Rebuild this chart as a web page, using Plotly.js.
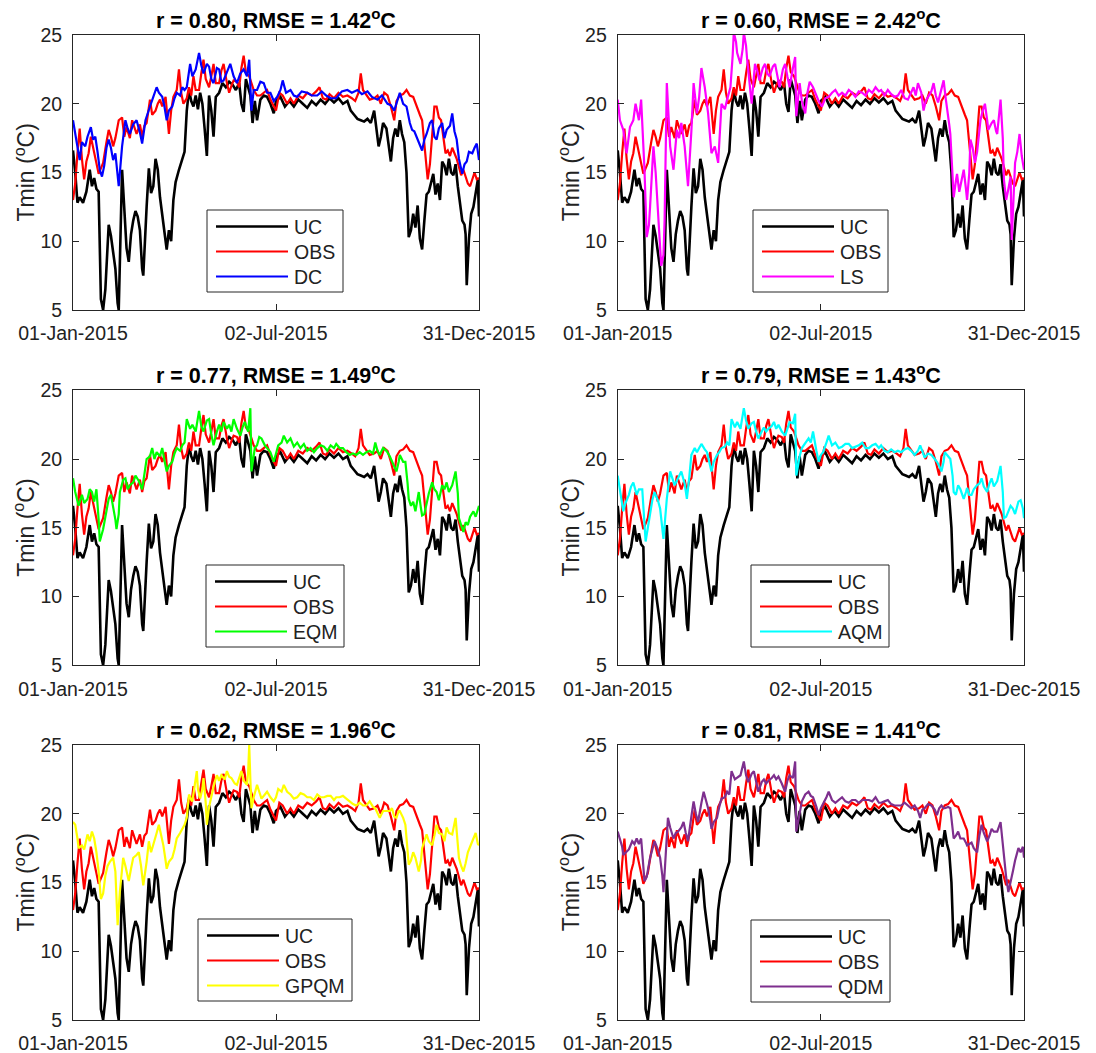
<!DOCTYPE html>
<html>
<head>
<meta charset="utf-8">
<script src="https://cdn.plot.ly/plotly-3.0.1.min.js"></script>
<style>html,body{margin:0;padding:0;background:#fff;}#chart{width:1096px;height:1053px;}</style>
</head>
<body>
<div id="chart"></div>
<script>
// ---- data: [day of 2015 (0 = 01-Jan), Tmin in °C] ----
const UC = [[0,16.6],[2,15.0],[4,12.8],[6,13.2],[9,12.8],[12,13.6],[15,15.2],[17,14.0],[19,14.6],[21,13.8],[23,13.6],[25,5.8],[27,5.0],[29,6.5],[32,11.2],[34,10.4],[36,9.2],[38,8.0],[40,5.5],[41,5.0],[44,15.2],[46,12.0],[48,9.5],[50,8.5],[52,10.5],[54,11.5],[56,12.2],[58,11.8],[60,10.8],[62,8.0],[63,7.5],[66,12.5],[68,15.3],[70,13.5],[72,14.0],[74,16.0],[76,15.2],[78,13.2],[80,11.8],[82,10.5],[84,9.4],[86,10.8],[88,10.0],[90,13.0],[92,14.3],[95,15.2],[98,16.0],[100,16.5],[102,19.5],[104,21.0],[106,20.2],[108,19.8],[110,20.6],[112,19.6],[114,20.8],[116,20.0],[118,18.2],[120,16.2],[122,20.6],[124,19.5],[126,17.6],[128,20.5],[131,20.8],[134,21.5],[137,21.2],[140,21.6],[143,21.4],[146,21.0],[149,21.5],[151,20.0],[153,19.4],[155,21.8],[157,21.2],[159,20.6],[161,18.6],[163,20.2],[165,18.8],[168,20.3],[171,20.6],[174,20.5],[177,20.0],[180,19.3],[182,20.2],[186,20.5],[190,19.8],[194,20.2],[198,19.8],[202,20.3],[206,20.0],[210,19.7],[214,20.2],[218,19.9],[222,20.3],[226,20.0],[230,20.4],[234,20.1],[238,20.4],[242,20.0],[246,20.2],[249,19.5],[252,19.2],[255,18.9],[258,18.8],[261,18.7],[264,18.9],[267,18.6],[270,19.5],[272,18.2],[274,16.9],[276,17.6],[278,18.6],[281,18.2],[283,16.8],[285,15.8],[287,17.5],[289,18.2],[291,17.6],[293,18.8],[295,17.8],[297,17.2],[299,15.0],[301,10.3],[303,10.8],[305,12.0],[307,11.0],[309,12.6],[311,10.2],[313,9.4],[315,11.5],[317,13.4],[319,13.6],[321,14.2],[323,14.9],[325,13.4],[327,14.2],[329,13.0],[331,15.8],[333,15.5],[335,14.8],[337,16.0],[339,15.0],[341,14.8],[343,15.6],[345,14.0],[347,12.8],[349,11.5],[351,11.2],[352,10.5],[353,6.8],[355,10.2],[357,12.0],[359,12.5],[361,13.5],[363,14.5],[364,11.8]];

const OBS = [[0,13.0],[2,14.2],[4,16.4],[6,18.2],[8,16.0],[10,14.5],[12,15.8],[14,16.4],[16,17.6],[18,16.8],[20,16.2],[23,14.9],[25,15.3],[27,15.7],[30,17.2],[32,18.1],[34,17.6],[36,16.9],[38,17.5],[41,18.8],[44,19.0],[46,17.6],[48,18.3],[51,17.5],[53,18.8],[55,18.3],[57,17.8],[60,18.5],[62,17.6],[64,18.4],[66,18.6],[69,20.3],[71,19.2],[74,19.5],[76,20.0],[78,20.3],[80,19.8],[83,20.5],[85,18.6],[86,17.8],[88,19.5],[90,20.5],[93,21.0],[95,22.5],[97,20.8],[99,20.0],[102,20.4],[104,21.2],[106,20.6],[108,22.0],[110,21.0],[113,21.0],[115,22.2],[117,23.2],[119,21.8],[122,21.2],[124,22.0],[126,22.9],[128,21.5],[131,21.5],[133,22.4],[135,22.9],[138,21.5],[140,20.8],[142,21.3],[144,21.7],[147,21.6],[149,21.2],[151,22.6],[153,23.5],[155,22.3],[158,22.0],[160,21.5],[162,21.0],[165,20.6],[168,20.6],[171,20.8],[174,21.0],[177,20.3],[180,19.8],[182,19.5],[185,20.8],[188,20.6],[192,20.0],[195,20.4],[198,20.0],[202,20.6],[206,20.4],[210,20.8],[214,20.6],[218,20.9],[221,21.2],[224,20.4],[227,20.3],[230,20.7],[234,20.4],[238,20.8],[242,20.5],[246,20.6],[250,20.4],[253,20.2],[256,20.8],[258,22.2],[260,21.0],[263,20.6],[266,20.3],[270,20.4],[273,20.6],[276,20.0],[279,20.8],[282,20.6],[285,19.8],[288,18.8],[290,20.2],[293,20.6],[296,20.7],[299,21.0],[302,20.6],[305,20.5],[308,19.8],[311,19.2],[313,18.8],[315,17.0],[316,15.9],[318,14.5],[320,15.6],[322,17.6],[324,19.8],[326,19.8],[328,19.0],[330,18.8],[332,17.5],[334,16.4],[336,16.6],[338,16.2],[340,16.8],[342,16.4],[344,16.0],[346,15.4],[348,14.8],[350,15.2],[352,14.7],[354,14.2],[356,14.0],[358,14.6],[360,15.0],[362,14.5],[364,14.6]];

const DC = [[0,18.8],[2,17.8],[4,17.0],[6,15.9],[8,17.2],[11,16.9],[13,17.6],[16,18.3],[18,17.4],[20,17.6],[22,16.5],[24,15.2],[26,14.7],[28,15.5],[30,16.8],[32,17.4],[34,16.8],[36,15.9],[38,16.4],[40,15.0],[41,14.0],[44,16.9],[47,18.8],[49,18.2],[51,17.8],[54,18.5],[57,18.8],[60,17.9],[62,17.1],[65,18.8],[67,19.4],[69,19.8],[72,20.5],[75,21.2],[77,20.8],[80,20.5],[82,19.8],[84,18.8],[86,19.5],[89,19.8],[91,20.4],[93,20.8],[96,20.6],[98,21.2],[100,21.0],[102,21.2],[105,22.9],[107,22.0],[110,22.5],[113,23.7],[115,22.8],[117,22.2],[120,22.9],[122,22.7],[124,21.8],[126,21.5],[129,22.6],[131,22.5],[133,21.6],[135,21.7],[138,22.3],[141,22.9],[144,22.0],[147,21.5],[150,22.2],[153,22.5],[156,22.0],[158,23.2],[160,19.5],[162,21.0],[165,21.0],[168,21.6],[171,21.5],[174,20.8],[177,20.8],[180,20.2],[183,20.5],[186,21.0],[188,21.7],[191,20.8],[195,21.0],[198,20.6],[201,20.5],[205,20.9],[210,20.8],[214,20.6],[219,20.6],[223,20.9],[227,20.6],[231,20.4],[236,20.4],[241,20.9],[246,21.0],[250,20.8],[255,21.0],[259,20.7],[264,20.9],[268,20.5],[273,20.3],[277,20.6],[282,20.0],[285,19.9],[288,19.5],[291,20.2],[293,20.8],[296,20.0],[299,19.8],[302,18.6],[304,18.1],[306,18.0],[308,17.6],[311,17.0],[313,16.6],[315,17.4],[317,17.8],[320,18.6],[322,18.8],[324,17.6],[326,17.4],[328,18.2],[331,18.6],[333,17.5],[335,18.1],[338,18.4],[340,19.3],[342,18.0],[344,17.4],[346,16.0],[349,14.9],[351,15.6],[353,15.8],[355,16.5],[358,16.4],[360,16.8],[362,17.1],[364,15.9]];

const LS = [[0,20.3],[2,18.8],[5,18.1],[8,16.4],[11,18.3],[14,18.8],[16,20.0],[19,18.8],[21,20.3],[23,17.5],[24,15.2],[26,10.3],[28,11.2],[29,12.5],[32,16.9],[34,15.0],[36,12.5],[38,10.0],[39,8.2],[41,9.0],[42,11.5],[44,21.5],[46,18.0],[47,16.9],[50,15.2],[53,18.1],[55,17.5],[57,18.6],[60,16.9],[62,15.0],[63,14.0],[66,18.0],[68,21.5],[71,19.3],[73,20.5],[75,22.6],[77,21.8],[78,21.2],[81,19.3],[83,17.5],[84,16.4],[87,16.9],[89,16.0],[90,15.7],[93,20.0],[96,19.6],[98,20.3],[101,21.2],[103,23.5],[104,25.2],[106,24.5],[107,23.7],[110,22.9],[112,24.0],[113,25.2],[115,24.2],[116,23.2],[118,21.8],[120,20.0],[123,22.9],[125,22.4],[127,21.7],[130,22.6],[132,22.9],[134,22.2],[136,22.0],[139,22.7],[141,22.9],[143,22.0],[145,21.2],[148,22.5],[150,22.9],[152,22.0],[154,21.2],[157,22.6],[159,23.4],[160,19.1],[163,21.5],[165,20.2],[168,19.3],[170,20.8],[172,21.6],[175,21.2],[177,20.8],[180,20.2],[183,19.8],[186,20.4],[189,20.5],[192,20.8],[195,21.0],[198,20.6],[201,20.8],[204,20.6],[207,21.0],[210,20.8],[213,20.5],[216,20.9],[219,20.8],[222,20.6],[225,21.0],[228,20.8],[231,21.2],[234,20.9],[236,21.0],[239,20.6],[242,21.0],[245,20.7],[248,20.5],[251,20.6],[254,21.0],[257,20.4],[260,20.3],[263,20.8],[265,21.2],[267,20.6],[269,21.5],[272,20.8],[274,19.5],[276,20.2],[278,20.5],[281,20.9],[283,21.5],[285,20.6],[287,20.1],[290,21.0],[292,21.7],[294,20.3],[295,19.8],[297,18.5],[298,17.8],[300,15.0],[301,13.2],[303,14.4],[304,14.9],[306,13.6],[307,14.0],[309,14.8],[310,15.2],[312,13.8],[313,13.0],[315,15.0],[316,17.4],[318,16.8],[320,15.7],[322,16.5],[325,18.8],[327,19.5],[329,20.0],[331,18.8],[332,18.1],[335,18.6],[337,18.8],[339,18.0],[340,17.8],[343,20.3],[345,17.5],[346,14.5],[348,13.0],[350,13.8],[352,14.7],[353,10.1],[355,13.8],[356,15.7],[358,16.5],[360,17.8],[362,16.2],[364,15.2]];

const EQM = [[0,18.6],[2,17.6],[5,16.6],[8,17.4],[10,16.8],[13,17.1],[15,17.8],[17,17.6],[19,16.9],[21,17.8],[23,15.6],[24,14.0],[27,14.9],[30,16.4],[32,17.1],[34,17.4],[36,16.6],[38,15.6],[39,14.9],[41,16.0],[42,17.6],[45,18.5],[47,18.6],[49,17.8],[51,18.1],[54,18.3],[56,18.8],[59,18.4],[62,17.8],[64,18.8],[66,20.0],[69,20.2],[71,20.8],[73,20.0],[75,20.5],[78,20.2],[80,20.8],[82,19.9],[84,19.1],[86,19.5],[89,19.8],[91,20.4],[93,20.8],[96,20.6],[98,21.0],[100,21.2],[102,22.9],[105,22.2],[107,22.5],[110,22.0],[113,23.5],[115,22.4],[117,22.0],[120,22.8],[122,22.9],[124,21.8],[126,21.0],[129,22.0],[131,22.5],[133,22.0],[135,22.7],[138,22.2],[140,22.5],[142,22.0],[144,22.9],[147,22.2],[150,21.7],[152,22.3],[154,22.7],[157,22.0],[159,23.7],[160,19.1],[163,20.8],[165,21.0],[167,21.6],[169,21.5],[172,21.0],[174,20.8],[177,20.5],[180,19.8],[182,20.4],[184,21.0],[187,21.2],[189,21.7],[192,21.2],[195,21.5],[198,20.9],[201,21.2],[204,20.8],[207,21.1],[210,20.6],[213,20.8],[216,20.5],[219,20.8],[222,21.0],[225,20.9],[228,20.6],[231,21.0],[234,20.8],[236,21.1],[239,20.8],[242,20.8],[245,20.5],[248,20.3],[251,20.4],[254,20.3],[257,20.5],[260,20.3],[263,20.5],[266,20.6],[269,20.4],[271,21.2],[273,20.6],[275,20.3],[278,20.8],[281,20.6],[284,20.2],[286,19.8],[288,19.4],[290,19.1],[292,19.8],[293,20.3],[296,19.8],[298,19.8],[300,18.2],[301,17.1],[303,16.6],[305,16.9],[307,16.2],[310,17.6],[312,16.4],[313,15.9],[315,16.0],[317,16.9],[319,17.5],[322,18.3],[324,17.8],[326,17.6],[328,17.0],[331,18.1],[333,17.8],[335,18.3],[337,17.6],[340,18.1],[343,19.1],[345,17.5],[346,15.7],[348,15.2],[350,14.7],[352,15.4],[354,15.2],[356,15.8],[359,16.2],[361,15.8],[364,16.6]];

const AQM = [[0,18.8],[2,17.8],[5,16.2],[7,16.8],[10,17.4],[12,18.0],[14,18.3],[17,17.4],[19,17.8],[22,17.8],[24,15.5],[25,14.0],[27,15.0],[29,16.2],[31,17.0],[33,17.6],[36,17.0],[38,16.4],[40,15.2],[41,14.2],[44,17.1],[47,19.1],[49,18.6],[51,18.1],[54,18.6],[57,19.1],[60,18.2],[62,17.1],[64,18.6],[66,20.3],[69,20.8],[71,20.5],[73,20.8],[75,21.1],[78,20.7],[80,20.5],[82,19.8],[84,19.1],[86,19.8],[89,20.3],[91,20.5],[93,20.8],[96,20.9],[98,21.2],[100,21.0],[102,22.9],[105,22.3],[107,22.7],[110,22.2],[113,23.7],[115,22.8],[117,22.2],[120,22.6],[122,22.7],[124,22.0],[126,21.5],[129,22.0],[131,22.3],[133,22.0],[135,22.2],[138,22.4],[140,22.7],[142,22.2],[144,22.5],[147,22.0],[150,21.7],[152,22.2],[154,22.7],[157,22.6],[159,23.3],[160,18.8],[163,20.2],[165,20.8],[168,21.2],[171,21.5],[173,21.2],[175,22.0],[178,20.6],[180,19.8],[182,20.3],[184,20.5],[187,21.2],[189,21.7],[192,21.0],[195,21.2],[198,20.8],[201,20.9],[204,21.1],[207,21.1],[210,20.8],[213,20.9],[216,21.0],[219,21.2],[222,20.8],[225,20.8],[228,21.0],[231,21.1],[234,20.8],[236,21.0],[239,20.6],[242,20.5],[245,20.7],[248,20.5],[251,20.6],[254,20.5],[257,20.7],[260,20.8],[263,20.6],[266,20.3],[269,20.6],[271,21.0],[273,20.5],[275,20.1],[278,20.4],[281,20.3],[284,20.0],[286,19.8],[288,19.5],[290,19.1],[292,19.8],[293,20.5],[296,20.2],[298,20.0],[300,18.8],[301,17.6],[303,17.4],[305,18.1],[307,17.8],[310,17.1],[312,17.6],[313,17.9],[315,17.4],[317,17.4],[319,17.8],[322,18.1],[324,18.2],[326,18.6],[328,18.0],[331,17.6],[333,18.2],[335,18.6],[337,18.0],[340,18.4],[343,19.5],[345,17.6],[346,15.7],[348,15.8],[350,16.2],[352,16.6],[354,16.4],[356,16.0],[359,16.9],[361,17.0],[363,16.4],[364,15.7]];

const GPQM = [[0,19.4],[2,19.2],[4,18.2],[5,17.5],[8,17.7],[10,17.4],[13,18.5],[15,18.0],[17,18.7],[19,18.2],[21,17.2],[23,15.8],[25,13.8],[27,14.2],[29,15.5],[31,16.2],[33,16.5],[36,16.8],[38,15.8],[39,13.5],[40,11.9],[42,14.3],[45,16.8],[47,16.2],[50,15.1],[52,16.0],[54,16.8],[57,17.0],[59,17.2],[61,16.2],[63,14.8],[66,16.5],[68,18.0],[70,17.2],[72,17.7],[75,18.6],[77,19.2],[79,18.5],[81,17.7],[83,16.6],[84,16.0],[86,16.5],[89,16.8],[91,17.4],[93,18.2],[96,18.6],[98,18.9],[100,19.2],[102,19.7],[104,21.4],[106,21.0],[107,20.9],[109,22.0],[111,23.1],[112,21.8],[114,21.1],[116,21.8],[117,22.6],[119,20.8],[120,19.2],[122,20.5],[125,21.6],[127,22.3],[129,22.8],[131,22.4],[133,22.8],[136,22.5],[138,23.1],[140,22.7],[142,22.6],[145,22.2],[147,22.1],[149,22.6],[151,23.1],[153,22.4],[156,22.1],[157,23.0],[158,25.0],[159,22.5],[160,20.4],[162,21.2],[165,22.1],[167,21.6],[169,21.1],[172,21.4],[174,21.6],[177,21.2],[180,20.9],[182,21.2],[184,21.8],[187,21.6],[189,22.1],[192,21.6],[195,21.4],[198,21.1],[201,21.2],[204,21.5],[207,21.4],[210,21.2],[213,21.2],[216,21.0],[219,21.4],[222,21.2],[225,21.2],[228,21.3],[231,21.3],[234,21.0],[236,21.2],[239,21.2],[242,21.3],[245,21.1],[248,20.9],[251,20.7],[254,20.6],[257,20.8],[260,20.6],[263,20.6],[266,20.9],[269,20.5],[271,20.4],[273,20.1],[275,19.7],[278,20.2],[281,20.2],[284,20.2],[286,20.4],[288,19.8],[290,19.7],[292,20.2],[293,20.2],[296,19.7],[298,19.2],[300,17.5],[301,16.3],[303,16.6],[305,17.2],[307,16.8],[309,16.2],[310,15.8],[312,16.6],[313,17.5],[315,18.0],[317,18.5],[319,18.0],[322,17.7],[324,18.4],[326,19.2],[328,18.6],[331,18.5],[333,18.0],[335,19.0],[337,18.6],[340,18.5],[343,19.7],[345,18.0],[346,16.8],[348,16.2],[350,15.8],[352,16.4],[354,17.2],[356,17.6],[359,18.2],[361,18.6],[363,17.8],[364,17.7]];

const QDM = [[0,18.7],[2,18.2],[4,17.6],[5,17.0],[8,17.2],[10,17.4],[13,18.0],[15,17.8],[17,18.2],[19,17.8],[21,18.2],[23,16.5],[24,15.1],[26,15.4],[29,16.8],[31,17.4],[33,18.0],[36,17.4],[38,16.8],[40,15.5],[41,14.3],[43,17.0],[45,19.7],[47,19.0],[50,18.2],[52,18.6],[54,18.7],[57,19.0],[59,19.4],[61,18.6],[63,18.0],[66,19.8],[68,20.9],[70,20.0],[72,19.4],[75,20.8],[77,21.6],[79,21.0],[81,20.4],[83,19.5],[84,18.9],[86,19.4],[89,19.7],[91,20.5],[93,21.1],[96,21.2],[98,21.6],[100,21.4],[102,23.1],[105,22.5],[107,22.6],[110,22.8],[113,23.8],[115,22.8],[117,22.3],[120,22.9],[122,23.1],[124,22.2],[126,21.6],[129,22.3],[131,22.5],[133,22.2],[135,22.4],[138,22.6],[140,22.8],[142,22.5],[144,22.7],[147,22.2],[150,21.6],[152,22.4],[154,22.8],[157,22.6],[159,23.8],[160,18.7],[163,20.2],[165,20.9],[168,21.4],[171,21.6],[173,21.3],[175,21.2],[178,20.5],[180,19.9],[182,20.4],[184,20.7],[187,21.2],[189,21.6],[192,21.0],[195,20.8],[198,21.0],[201,21.2],[204,20.9],[207,20.8],[210,21.0],[213,21.0],[216,20.8],[219,21.0],[222,21.0],[225,21.0],[228,20.9],[231,21.2],[234,20.8],[236,20.8],[239,20.9],[242,21.0],[245,20.7],[248,20.6],[251,20.6],[254,20.6],[257,20.8],[260,20.6],[263,20.4],[266,20.6],[269,20.2],[271,19.7],[273,20.3],[275,20.4],[278,20.7],[281,20.6],[284,20.3],[286,19.9],[288,20.4],[290,20.6],[292,20.4],[293,20.4],[296,20.5],[298,20.4],[300,19.2],[301,18.2],[303,18.4],[305,18.7],[307,18.2],[310,18.2],[312,17.9],[313,17.7],[315,17.8],[317,17.9],[319,17.5],[322,17.2],[324,18.4],[326,19.2],[328,18.6],[331,18.0],[333,18.4],[335,18.9],[337,18.7],[340,18.7],[343,19.4],[345,17.6],[346,16.8],[348,15.4],[350,14.3],[352,15.2],[354,15.8],[356,16.6],[359,17.5],[361,17.2],[363,17.6],[364,16.8]];

const methodNames = ['DC','LS','EQM','AQM','GPQM','QDM'];
const methodColors = ['#0000FF','#FF00FF','#00FF00','#00FFFF','#FFFF00','#7E2F8E'];
const rValues = ['0.80','0.60','0.77','0.79','0.62','0.81'];
const rmseValues = ['1.42','2.42','1.49','1.43','1.96','1.41'];
const xTickVals = [0, 182, 364];
const xTickText = ['01-Jan-2015','02-Jul-2015','31-Dec-2015'];
const yTickVals = [5, 10, 15, 20, 25];

// ---- layout geometry (pixels) ----
const W = 1096, H = 1053;
const cols = [[73, 479], [617.7, 1024]];
const rows = [[35, 310], [390.3, 665.3], [745, 1020]];
// legend boxes: [left, top, right] in px
const legendBox = [[207, 210, 343], [753, 210, 888], [206, 565, 344], [751, 565, 889], [198, 919, 352], [751, 920, 890]];
const FONT = 'Liberation Sans, Arial, Helvetica, sans-serif';
const AX = '#262626';
const TICKSZ = 19.5;

const series = [DC, LS, EQM, AQM, GPQM, QDM];
const traces = [];
const layout = {
  width: W, height: H,
  margin: {l: 0, r: 0, t: 0, b: 0},
  paper_bgcolor: '#fff', plot_bgcolor: '#fff',
  font: {family: FONT, size: TICKSZ, color: '#000'},
  showlegend: false,
  annotations: [], shapes: []
};
const px = v => v / W, py = v => 1 - v / H;

for (let i = 0; i < 6; i++) {
  const c = i % 2, r = Math.floor(i / 2);
  const n = i === 0 ? '' : String(i + 1);
  const xa = 'x' + n, ya = 'y' + n;
  const xd = [px(cols[c][0]), px(cols[c][1])];
  const yd = [py(rows[r][1]), py(rows[r][0])];

  const items = [['UC', UC, '#000000', 2.6], ['OBS', OBS, '#FF0000', 2.2], [methodNames[i], series[i], methodColors[i], 2.2]];
  items.forEach(([name, data, color, w]) => {
    traces.push({
      type: 'scatter', mode: 'lines', name: name,
      x: data.map(d => d[0]), y: data.map(d => d[1]),
      xaxis: xa, yaxis: ya,
      line: {color: color, width: w},
      hoverinfo: 'skip'
    });
  });

  layout['xaxis' + n] = {
    domain: xd, anchor: ya, range: [0, 364],
    tickmode: 'array', tickvals: xTickVals, ticktext: xTickText,
    ticks: 'inside', ticklen: 6, tickcolor: AX, tickwidth: 1,
    showline: true, linecolor: AX, linewidth: 1, mirror: 'ticks',
    showgrid: false, zeroline: false, fixedrange: true,
    ticklabelstandoff: 6,
    tickfont: {family: FONT, size: TICKSZ, color: '#222'}
  };
  layout['yaxis' + n] = {
    domain: yd, anchor: xa, range: [5, 25],
    tickmode: 'array', tickvals: yTickVals,
    ticks: 'inside', ticklen: 6, tickcolor: AX, tickwidth: 1,
    showline: true, linecolor: AX, linewidth: 1, mirror: 'ticks',
    showgrid: false, zeroline: false, fixedrange: true,
    ticklabelstandoff: 6,
    tickfont: {family: FONT, size: TICKSZ, color: '#222'}
  };

  // legend box (drawn as shapes + text on top of the plot area)
  const [bl, bt, br] = legendBox[i];
  layout.shapes.push({
    type: 'rect', xref: 'paper', yref: 'paper', layer: 'above',
    x0: px(bl), x1: px(br), y0: py(bt + 82), y1: py(bt),
    fillcolor: '#fff', line: {color: AX, width: 1}
  });
  items.forEach(([name, data, color, w], k) => {
    const yy = bt + 16.5 + k * 25;
    layout.shapes.push({
      type: 'line', xref: 'paper', yref: 'paper', layer: 'above',
      x0: px(bl + 9), x1: px(bl + 81), y0: py(yy), y1: py(yy),
      line: {color: color, width: w}
    });
    layout.annotations.push({
      xref: 'paper', yref: 'paper', x: px(bl + 85), y: py(yy),
      xanchor: 'left', yanchor: 'middle', showarrow: false,
      text: name, font: {family: FONT, size: 19.5, color: '#222'}
    });
  });

  // panel title
  layout.annotations.push({
    xref: 'paper', yref: 'paper',
    x: (xd[0] + xd[1]) / 2, y: yd[1],
    xanchor: 'center', yanchor: 'bottom', yshift: 0,
    showarrow: false,
    text: '<b>r = ' + rValues[i] + ', RMSE = ' + rmseValues[i] + '<sup>o</sup>C</b>',
    font: {family: FONT, size: 21.5, color: '#000'}
  });
  // y-axis title
  layout.annotations.push({
    xref: 'paper', yref: 'paper',
    x: px(cols[c][0] - 49), y: (yd[0] + yd[1]) / 2,
    xanchor: 'center', yanchor: 'middle', textangle: -90,
    showarrow: false,
    text: 'Tmin (<sup>o</sup>C)',
    font: {family: FONT, size: 23, color: '#222'}
  });
}

Plotly.newPlot('chart', traces, layout, {displayModeBar: false, staticPlot: true});
</script>
</body>
</html>
